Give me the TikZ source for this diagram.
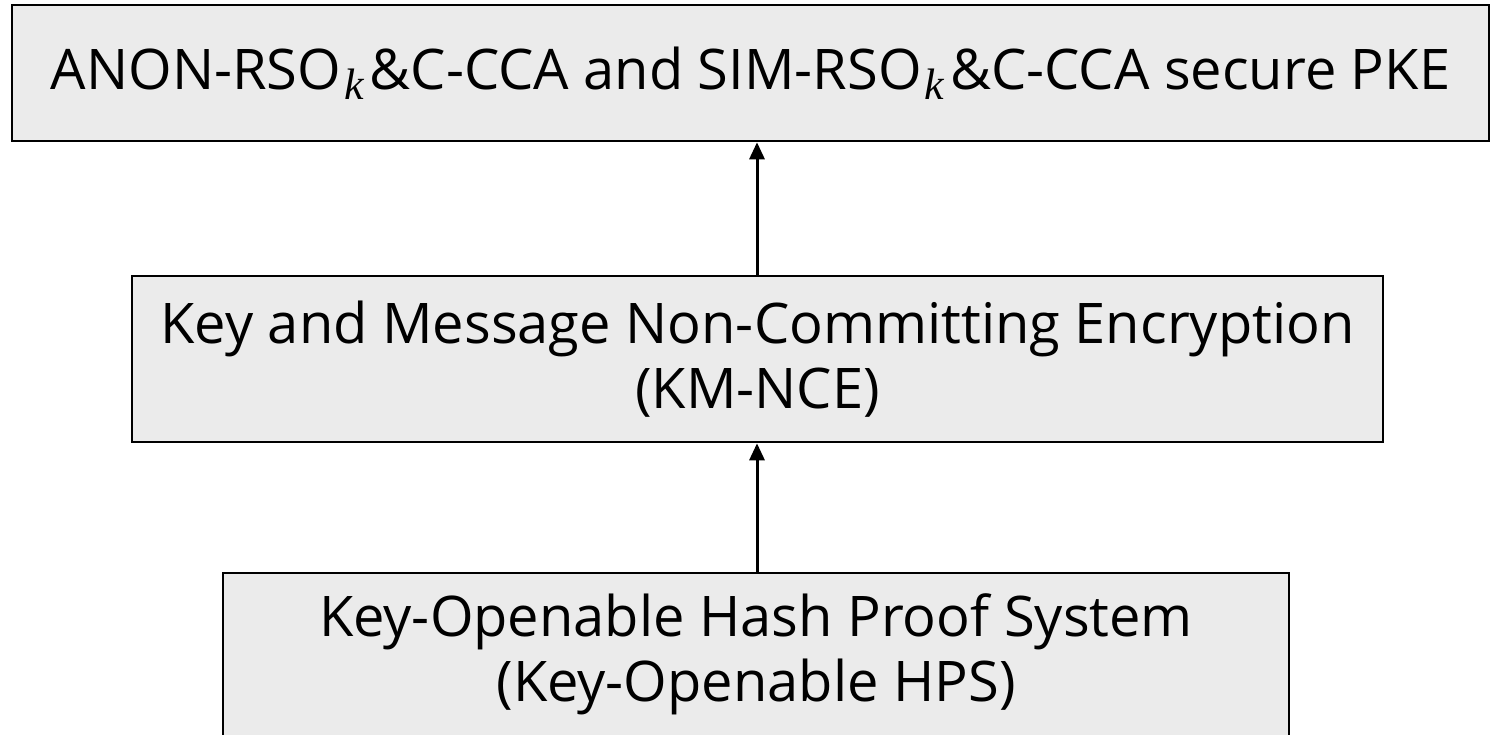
\documentclass[tikz,border=0pt]{standalone}
\usepackage{fontspec}
\setmainfont{Open Sans}
\newfontfamily\kfont{Liberation Serif}
\usetikzlibrary{arrows.meta}
\definecolor{boxfill}{HTML}{EBEBEB}
\newcommand{\subk}{\kern3pt\raisebox{-10pt}{\fontsize{44}{44}\selectfont\kfont\itshape k}\kern6pt}
\tikzset{
  box/.style={draw=black, line width=2.6pt, fill=boxfill, inner sep=0pt, align=center,
    font=\fontsize{56}{65}\selectfont},
  conn/.style={line width=3pt, -{Triangle[length=17pt,width=15pt]}}
}
\begin{document}
\begin{tikzpicture}[x=1pt,y=-1pt]
\useasboundingbox (0,0) rectangle (1491,734);
\node[box, minimum width=1477pt, minimum height=136pt] (pke) at (750.5,73)
  {ANON-RSO\subk\&C-CCA and SIM-RSO\subk\&C-CCA secure PKE};
\node[box, minimum width=1251pt, minimum height=166pt] (nce) at (757.5,359)
  {Key and Message Non-Committing Encryption\\(KM-NCE)};
\node[box, minimum width=1066pt, minimum height=163pt] (hps) at (756,654.5)
  {Key-Openable Hash Proof System\\(Key-Openable HPS)};
\draw[conn] (hps.north -| 757,0) -- (nce.south -| 757,0);
\draw[conn] (nce.north -| 757,0) -- (pke.south -| 757,0);
\end{tikzpicture}
\end{document}
